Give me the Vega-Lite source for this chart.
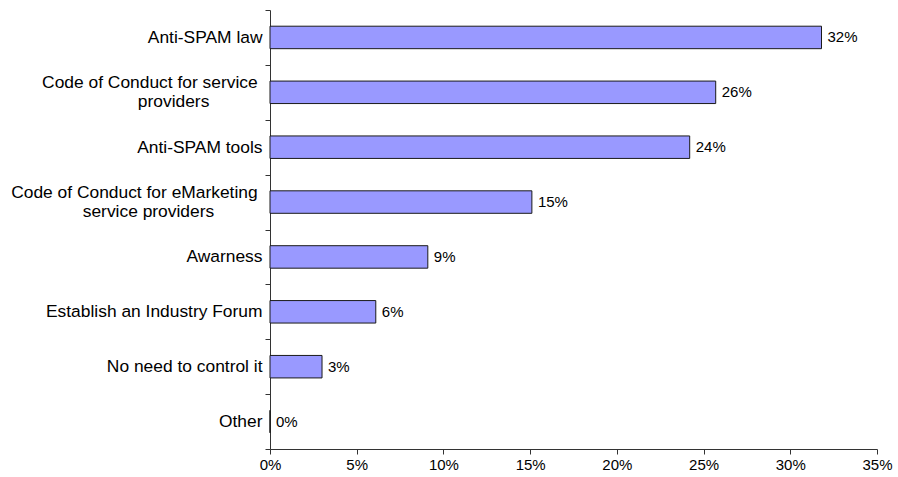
{
  "$schema": "https://vega.github.io/schema/vega-lite/v6.json",
  "width": 607,
  "height": 439,
  "autosize": {"type": "none"},
  "padding": {"left": 270, "top": 10, "right": 21, "bottom": 28},
  "background": "white",
  "config": {"view": {"stroke": null}, "font": "Liberation Sans"},
  "data": {
    "values": [
      {"category": "Anti-SPAM law", "share": 0.318},
      {"category": "Code of Conduct for service\u00a0\u200b|providers\u00a0\u00a0\u00a0\u00a0\u00a0\u00a0\u00a0\u00a0\u00a0\u00a0\u00a0\u200b", "share": 0.257},
      {"category": "Anti-SPAM tools", "share": 0.242},
      {"category": "Code of Conduct for eMarketing\u00a0\u200b|service providers\u00a0\u00a0\u00a0\u00a0\u00a0\u00a0\u00a0\u00a0\u00a0\u00a0\u200b", "share": 0.151},
      {"category": "Awarness", "share": 0.091},
      {"category": "Establish an Industry Forum", "share": 0.061},
      {"category": "No need to control it", "share": 0.03},
      {"category": "Other", "share": 0}
    ]
  },
  "encoding": {
    "y": {
      "field": "category",
      "type": "nominal",
      "sort": null,
      "scale": {"paddingInner": 0, "paddingOuter": 0},
      "axis": {
        "title": null,
        "tickBand": "extent",
        "tickSize": 5,
        "tickColor": "#333333",
        "domainColor": "#333333",
        "labelFontSize": 17.4,
        "labelColor": "black",
        "labelFont": "Liberation Sans",
        "labelPadding": 3,
        "labelLimit": 0,
        "labelExpr": "split(datum.label, '|')",
        "labelLineHeight": 19,
        "labelOffset": {"condition": {"test": "indexof(datum.label, '|') >= 0", "value": -10}, "value": 0},
        "grid": false
      }
    },
    "x": {
      "field": "share",
      "type": "quantitative",
      "scale": {"domain": [0, 0.35], "nice": false},
      "axis": {
        "title": null,
        "values": [0, 0.05, 0.1, 0.15, 0.2, 0.25, 0.3, 0.35],
        "format": ".0%",
        "tickSize": 5,
        "tickColor": "#333333",
        "domainColor": "#333333",
        "labelFontSize": 15,
        "labelColor": "black",
        "labelFont": "Liberation Sans",
        "labelPadding": 3,
        "labelFlush": false,
        "grid": false
      }
    }
  },
  "layer": [
    {
      "mark": {"type": "bar", "height": {"band": 0.41}, "fill": "#9999FF", "stroke": "#1a1a1a", "strokeWidth": 1}
    },
    {
      "mark": {"type": "text", "align": "left", "baseline": "middle", "dx": 6, "fontSize": 15, "font": "Liberation Sans", "color": "black"},
      "encoding": {"text": {"field": "share", "type": "quantitative", "format": ".0%"}}
    }
  ]
}
